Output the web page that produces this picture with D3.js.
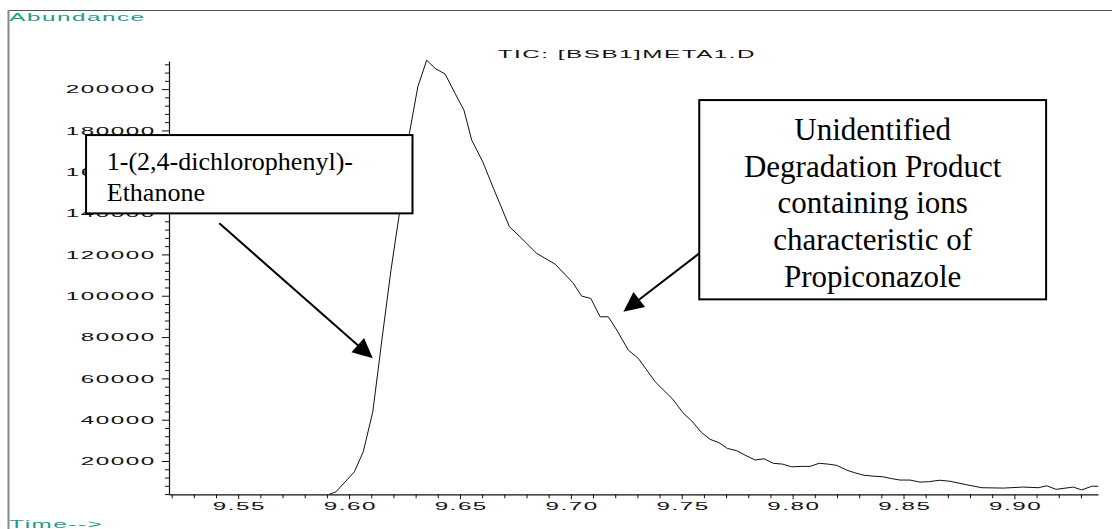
<!DOCTYPE html>
<html><head><meta charset="utf-8">
<script src="https://cdn.jsdelivr.net/npm/d3@7"></script>
<style>html,body{margin:0;padding:0;background:#fff;overflow:hidden}</style>
</head><body><svg id="c" width="1112" height="529"></svg>
<script>
// ---- data ----
const times = [9.5910, 9.5941, 9.6024, 9.6064, 9.6107, 9.6149, 9.6189, 9.6227, 9.6272, 9.6310,
  9.6350, 9.6388, 9.6433, 9.6478, 9.6518, 9.6553, 9.6603, 9.6651, 9.6723, 9.6771,
  9.6846, 9.6929, 9.7009, 9.7049, 9.7090, 9.7132, 9.7169, 9.7207, 9.7259, 9.7304,
  9.7380, 9.7417, 9.7459, 9.7505, 9.7545, 9.7590, 9.7628, 9.7668, 9.7706, 9.7748,
  9.7790, 9.7831, 9.7871, 9.7913, 9.7955, 9.7996, 9.8038, 9.8078, 9.8120, 9.8161,
  9.8199, 9.8244, 9.8281, 9.8322, 9.8364, 9.8406, 9.8446, 9.8484, 9.8529, 9.8574,
  9.8612, 9.8665, 9.8710, 9.8785, 9.8853, 9.8950, 9.9040, 9.9108, 9.9146, 9.9188,
  9.9266, 9.9303, 9.9349, 9.9378];
const abundance = [3900, 5100, 14800, 24500, 43900, 79500, 112400, 139900, 178600, 201100,
  214000, 210000, 207300, 197900, 189800, 175300, 164800, 152000, 133400, 128500,
  120500, 115300, 106300, 99800, 98700, 89800, 89800, 83400, 73700, 69700,
  58400, 54400, 50000, 43400, 39400, 33700, 30500, 28900, 26100, 25000,
  22600, 20500, 21100, 18900, 18500, 17200, 17400, 17400, 18900, 18500,
  17900, 15600, 14300, 13100, 12700, 12400, 11500, 10800, 10800, 9800,
  10000, 10700, 10200, 8500, 7100, 6900, 7400, 7100, 8000, 6300,
  7400, 6000, 7800, 7800];
const xDomain = [9.5188, 9.9377];
const yDomain = [3900, 213600];
const yMajorTicks = [20000, 40000, 60000, 80000, 100000, 120000, 140000, 160000, 180000, 200000];
const yMinorTicks = [4000, 8000, 12000, 16000, 24000, 28000, 32000, 36000, 44000, 48000, 52000, 56000,
  64000, 68000, 72000, 76000, 84000, 88000, 92000, 96000, 104000, 108000, 112000, 116000,
  124000, 128000, 132000, 136000, 144000, 148000, 152000, 156000, 164000, 168000, 172000, 176000,
  184000, 188000, 192000, 196000, 204000, 208000, 212000];
const xMajorTicks = [9.55, 9.60, 9.65, 9.70, 9.75, 9.80, 9.85, 9.90];
const xTickLabels = ["9.55", "9.60", "9.65", "9.70", "9.75", "9.80", "9.85", "9.90"];
const xMinorTicks = [9.52, 9.53, 9.54, 9.56, 9.57, 9.58, 9.59, 9.61, 9.62, 9.63, 9.64, 9.66, 9.67, 9.68, 9.69,
  9.71, 9.72, 9.73, 9.74, 9.76, 9.77, 9.78, 9.79, 9.81, 9.82, 9.83, 9.84, 9.86, 9.87, 9.88, 9.89,
  9.91, 9.92, 9.93];
const titleText = "TIC: [BSB1]META1.D";
const yLabelText = "Abundance";
const xLabelText = "Time-->";
// annotation anchors in data units: box [t0, vTop, t1, vBottom], arrow from [t,v] to [t,v]
const note1Lines = ["1-(2,4-dichlorophenyl)-", "Ethanone"];
const note1Box = [9.4814, 177755, 9.6286, 139862];
const note1Arrow = [[9.5415, 135023], [9.6107, 69700]];
const note2Lines = ["Unidentified", "Degradation Product", "containing ions", "characteristic of", "Propiconazole"];
const note2Box = [9.7579, 194692, 9.9143, 98247];
const note2Arrow = [[9.7579, 120506], [9.7237, 92246]];

// ---- drawing ----
const svg = d3.select("#c");
const x = d3.scaleLinear().domain(xDomain).range([169, 1098]);
const y = d3.scaleLinear().domain(yDomain).range([494.3, 61]);
const teal = "#1a9c8c";
const SX = 2.2;            // horizontal stretch of the instrument font
function wide(sel) {
  sel.style("font-family", "'Liberation Sans', Arial, sans-serif")
     .style("font-size", "11px").style("letter-spacing", "0.7px");
}

// outer frame
svg.append("line").attr("x1", 8).attr("y1", 10.5).attr("x2", 1112).attr("y2", 10.5)
  .attr("stroke", "#555").attr("stroke-width", 1);
svg.append("line").attr("x1", 8.5).attr("y1", 10).attr("x2", 8.5).attr("y2", 529)
  .attr("stroke", "#888").attr("stroke-width", 2);

// corner texts
function stretchedText(px, py, txt, color) {
  const t = svg.append("text").attr("transform", `translate(${px},${py}) scale(${SX},1)`)
    .attr("fill", color).text(txt);
  wide(t);
  return t;
}
stretchedText(9.3, 20.7, yLabelText, teal);
stretchedText(9.3, 528, xLabelText, teal);
stretchedText(497.7, 57.5, titleText, "#111");

// y axis: minor ticks then major ticks with labels
const gy = svg.append("g").attr("transform", "translate(169,0)");
gy.append("g").call(d3.axisLeft(y).tickValues(yMinorTicks).tickSize(4).tickSizeOuter(0).tickFormat(""))
  .call(g => g.select(".domain").remove());
gy.append("g").call(d3.axisLeft(y).tickValues(yMajorTicks).tickSize(7).tickSizeOuter(0).tickFormat(d3.format("d")))
  .call(g => {
    g.selectAll(".tick text").attr("x", -6.0).attr("dy", "0.33em")
      .attr("transform", `scale(${SX},1)`).attr("fill", "#111").attr("text-anchor", "end")
      .call(wide);
  });

// x axis
const gx = svg.append("g").attr("transform", "translate(0,494.3)");
gx.append("g").call(d3.axisBottom(x).tickValues(xMinorTicks).tickSize(4).tickSizeOuter(0).tickFormat(""))
  .call(g => g.select(".domain").remove());
gx.append("g").call(d3.axisBottom(x).tickValues(xMajorTicks).tickSize(5).tickSizeOuter(0)
    .tickFormat((d, i) => xTickLabels[i]))
  .call(g => {
    g.selectAll(".tick text").attr("y", 15.7).attr("dy", 0).attr("x", 0.35)
      .attr("transform", `scale(${SX},1)`).attr("fill", "#111")
      .call(wide);
  });
svg.selectAll(".domain").attr("stroke", "#111").attr("stroke-width", 1.2);
svg.selectAll(".tick line").attr("stroke", "#111");

// chromatogram trace
const pts = times.map((t, i) => [t, abundance[i]]);
svg.append("path").datum(pts)
  .attr("d", d3.line().x(d => x(d[0])).y(d => y(d[1])))
  .attr("fill", "none").attr("stroke", "#111").attr("stroke-width", 1);

// annotations
function arrow(a) {
  const [x0, y0] = [x(a[0][0]), y(a[0][1])];
  const [x1, y1] = [x(a[1][0]), y(a[1][1])];
  const L = Math.hypot(x1 - x0, y1 - y0), ux = (x1 - x0) / L, uy = (y1 - y0) / L;
  const hl = 20, hw = 9.5;
  const bx = x1 - ux * hl, by = y1 - uy * hl;
  svg.append("line").attr("x1", x0).attr("y1", y0).attr("x2", bx + ux * 2).attr("y2", by + uy * 2)
    .attr("stroke", "#000").attr("stroke-width", 2);
  svg.append("path").attr("d", `M${x1},${y1}L${bx - uy * hw},${by + ux * hw}L${bx + uy * hw},${by - ux * hw}Z`)
    .attr("fill", "#000");
}
function box(b) {
  const bx0 = x(b[0]), by0 = y(b[1]), bx1 = x(b[2]), by1 = y(b[3]);
  svg.append("rect").attr("x", bx0).attr("y", by0).attr("width", bx1 - bx0).attr("height", by1 - by0)
    .attr("fill", "#fff").attr("stroke", "#000").attr("stroke-width", 2);
  return [bx0, by0, bx1, by1];
}
const b1 = box(note1Box);
const t1 = svg.append("text").style("font-family", "'Liberation Serif', 'Times New Roman', serif")
  .style("font-size", "26px").attr("fill", "#000");
note1Lines.forEach((s, i) => t1.append("tspan").attr("x", b1[0] + 20.7).attr("y", b1[1] + 35 + i * 31).text(s));
arrow(note1Arrow);

const b2 = box(note2Box);
const t2 = svg.append("text").style("font-family", "'Liberation Serif', 'Times New Roman', serif")
  .style("font-size", "31px").attr("fill", "#000").attr("text-anchor", "middle");
note2Lines.forEach((s, i) => t2.append("tspan").attr("x", (b2[0] + b2[2]) / 2).attr("y", b2[1] + 40 + i * 36.7).text(s));
arrow(note2Arrow);
</script>
</body></html>
